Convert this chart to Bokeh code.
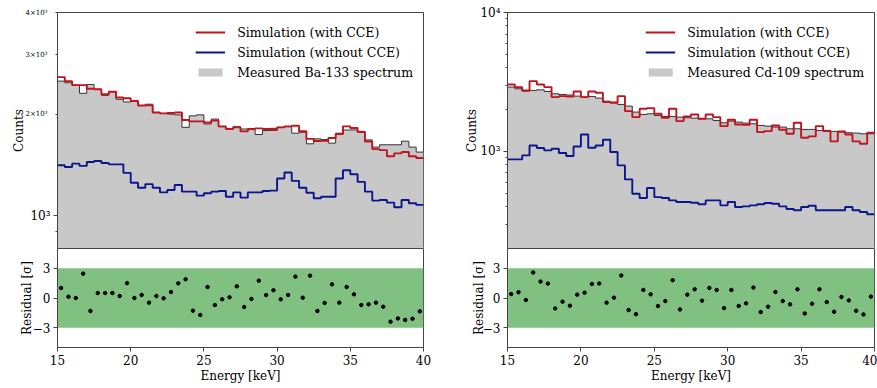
import numpy as np
from bokeh.plotting import figure
from bokeh.models import Range1d, FixedTicker, BoxAnnotation, Legend, LegendItem, LogAxis
from bokeh.layouts import row, column
from bokeh.embed import file_html
from bokeh.resources import INLINE

# ---------------- data ----------------
bin_edges = np.linspace(15.0, 40.0, 51)          # 0.5 keV bins
bin_centers = bin_edges[:-1] + 0.25
x_ticks = [15, 20, 25, 30, 35, 40]

ba_measured = [2505, 2477, 2438, 2305, 2449, 2368, 2274, 2331, 2213, 2173,
               2188, 2121, 2140, 2023, 2010, 2000, 1990, 1828, 1977, 1990,
               1870, 1934, 1836, 1807, 1836, 1807, 1800, 1740, 1788, 1815,
               1828, 1836, 1756, 1768, 1634, 1690, 1682, 1641, 1756, 1795,
               1795, 1778, 1678, 1597, 1623, 1623, 1623, 1663, 1597, 1544]
ba_sim_cce = [2574, 2505, 2438, 2438, 2378, 2370, 2290, 2330, 2240, 2230,
              2188, 2121, 2125, 2023, 2010, 2015, 2023, 1921, 1904, 1904,
              1890, 1913, 1840, 1807, 1828, 1778, 1807, 1815, 1807, 1795,
              1828, 1840, 1848, 1780, 1690, 1665, 1668, 1700, 1745, 1840,
              1820, 1770, 1660, 1575, 1565, 1500, 1530, 1545, 1500, 1483]
ba_sim_nocce = [1411, 1395, 1427, 1405, 1443, 1453, 1433, 1420, 1420, 1340,
                1252, 1211, 1241, 1211, 1173, 1192, 1233, 1179, 1179, 1147,
                1166, 1179, 1184, 1139, 1173, 1132, 1173, 1173, 1184, 1187,
                1289, 1343, 1269, 1211, 1170, 1127, 1139, 1139, 1289, 1364,
                1327, 1260, 1179, 1109, 1114, 1094, 1060, 1114, 1089, 1077]
ba_residual = [1.01, 0.13, 0.0, 2.46, -1.31, 0.5, 0.5, 0.5, 0.2, 1.5,
               0.0, 0.3, -0.47, 0.2, -0.03, 0.6, 1.48, 1.89, -1.28, -1.72,
               1.11, -0.71, -0.13, 0.07, 1.18, -0.91, -0.1, 1.75, 0.3, 0.78,
               -0.13, 0.3, 2.16, 0.03, 2.26, -1.31, -0.5, 1.38, -0.47, 1.11,
               0.37, -0.71, -0.64, -0.47, -0.88, -2.39, -2.06, -2.22, -2.09, -1.35]

cd_measured = [2903, 2825, 2717, 2747, 2775, 2700, 2600, 2570, 2545, 2500,
               2460, 2487, 2420, 2300, 2264, 2178, 2120, 1918, 1845, 1866,
               1815, 1785, 1785, 1766, 1746, 1737, 1717, 1717, 1670, 1607,
               1653, 1626, 1598, 1581, 1538, 1521, 1497, 1497, 1455, 1455,
               1440, 1440, 1416, 1416, 1393, 1377, 1362, 1355, 1340, 1340]
cd_sim_cce = [3034, 2903, 2747, 3206, 3034, 2903, 2460, 2500, 2487, 2700,
              2460, 2700, 2644, 2264, 2240, 2500, 1950, 1766, 2028, 2050,
              1866, 1746, 2028, 1653, 1785, 1845, 1717, 1845, 1766, 1520,
              1690, 1564, 1555, 1690, 1377, 1400, 1538, 1432, 1340, 1607,
              1254, 1282, 1521, 1400, 1180, 1393, 1325, 1180, 1135, 1362]
cd_sim_nocce = [876, 876, 936, 1104, 1057, 1017, 1045, 973, 926, 1086,
                1325, 1063, 1104, 1213, 989, 793, 629, 496, 462, 545,
                469, 462, 444, 432, 432, 427, 416, 444, 444, 409,
                432, 398, 402, 409, 416, 425, 420, 402, 385, 377,
                398, 406, 377, 377, 377, 377, 398, 377, 366, 353]
cd_residual = [0.4, 0.58, -0.2, 2.58, 1.66, 1.46, -1.05, -0.37, -0.78, 0.34,
               0.54, 1.42, 1.46, -0.47, 0.03, 2.27, -1.22, -1.63, 0.81, 0.37,
               -0.81, -0.31, 1.8, -1.15, 0.34, 0.88, -0.27, 1.02, 0.81, -1.02,
               0.81, -0.81, -0.54, 1.05, -1.42, -0.88, 0.61, -0.31, -0.64, 0.88,
               -1.56, -0.58, 0.88, -0.41, -1.39, 0.1, -0.24, -1.29, -1.66, 0.14]

# ---------------- style ----------------
FONT = "DejaVu Serif"
RED = "#c0141e"
BLUE = "#0c168c"
GRAY = "#c8c8c8"
SPINE = "#444444"
GREEN = "#80c080"


def style_axis(ax, standoff_label):
    ax.major_label_text_font = FONT
    ax.major_label_text_font_size = "12px"
    ax.major_label_text_color = "black"
    ax.axis_label_text_font = FONT
    ax.axis_label_text_font_size = "12px"
    ax.axis_label_text_font_style = "normal"
    ax.axis_label_text_color = "black"
    ax.axis_line_color = SPINE
    ax.major_tick_line_color = SPINE
    ax.minor_tick_line_color = SPINE
    ax.major_tick_in = 0
    ax.major_tick_out = 4
    ax.minor_tick_in = 0
    ax.minor_tick_out = 2
    ax.major_label_standoff = 3
    ax.axis_label_standoff = standoff_label


def base_fig(**kw):
    p = figure(output_backend="svg", toolbar_location=None, **kw)
    p.grid.visible = False
    p.outline_line_color = SPINE
    p.outline_line_width = 1
    p.background_fill_color = "white"
    p.border_fill_color = "white"
    return p


def step_vals(v):
    return list(v) + [v[-1]]


def make_pair(meas, cce, nocce, resid, ylo, yhi, major, minor, overrides,
              small_ticks, small_overrides, source_name, bl, fw, br, xr,
              main_lab_off, res_lab_off):
    width = bl + fw + br
    pm = base_fig(width=width, height=248, x_range=xr, y_range=Range1d(ylo, yhi),
                  y_axis_type="log", min_border_left=bl, min_border_right=br,
                  min_border_top=12, min_border_bottom=0)
    pm.xaxis.visible = False
    yax = pm.yaxis[0]
    yax.ticker = FixedTicker(ticks=major, minor_ticks=minor)
    yax.major_label_overrides = overrides
    style_axis(yax, main_lab_off)
    if small_ticks:
        outer = LogAxis(ticker=FixedTicker(ticks=small_ticks),
                        major_label_overrides=small_overrides)
        style_axis(outer, main_lab_off)
        outer.major_label_text_font_size = "7px"
        outer.major_tick_out = 0
        outer.minor_tick_out = 0
        outer.axis_line_color = None
        outer.major_label_standoff = -20
        outer.axis_label = "Counts"
        pm.add_layout(outer, "left")
    else:
        yax.axis_label = "Counts"

    base = [1] * len(bin_edges)
    r_meas = pm.varea_step(x=bin_edges, y1=base, y2=step_vals(meas), step_mode="after",
                           fill_color=GRAY)
    pm.step(bin_edges, step_vals(meas), mode="after", line_color="#333333", line_width=1.0)
    r_cce = pm.step(bin_edges, step_vals(cce), mode="after", line_color=RED, line_width=1.9)
    r_nocce = pm.step(bin_edges, step_vals(nocce), mode="after", line_color=BLUE, line_width=1.9)

    legend = Legend(items=[
        LegendItem(label="Simulation (with CCE)", renderers=[r_cce]),
        LegendItem(label="Simulation (without CCE)", renderers=[r_nocce]),
        LegendItem(label=source_name, renderers=[r_meas]),
    ], location="top_right")
    legend.label_text_font = FONT
    legend.label_text_font_size = "12.5px"
    legend.label_text_color = "black"
    legend.glyph_width = 30
    legend.glyph_height = 10
    legend.label_height = 20
    legend.label_standoff = 12
    legend.spacing = 0
    legend.padding = 8
    legend.margin = 10
    legend.border_line_color = None
    legend.background_fill_alpha = 0
    pm.add_layout(legend)

    pr = base_fig(width=width, height=140, x_range=xr, y_range=Range1d(-5, 5),
                  min_border_left=bl, min_border_right=br,
                  min_border_top=0, min_border_bottom=41)
    pr.add_layout(BoxAnnotation(bottom=-3, top=3, fill_color=GREEN, fill_alpha=1.0,
                                line_color=None, level="underlay"))
    pr.scatter(bin_centers, resid, size=3.5, color="black")
    ry = pr.yaxis[0]
    ry.ticker = FixedTicker(ticks=[-3, 0, 3])
    ry.major_label_overrides = {-3: "\u22123", 0: "0", 3: "3"}
    ry.axis_label = "Residual [\u03c3]"
    style_axis(ry, res_lab_off)
    rx = pr.xaxis[0]
    rx.ticker = FixedTicker(ticks=x_ticks)
    rx.axis_label = "Energy [keV]"
    style_axis(rx, 1)
    rx.major_label_standoff = 3
    return column(pm, pr)


xr_left = Range1d(15, 40)
xr_right = Range1d(15, 40)

left = make_pair(ba_measured, ba_sim_cce, ba_sim_nocce, ba_residual,
                 800, 4000, [1000], [900, 2000, 3000, 4000], {1000: "10\u00b3"},
                 [2000, 3000, 4000],
                 {2000: "2\u00d710\u00b3", 3000: "3\u00d710\u00b3", 4000: "4\u00d710\u00b3"},
                 "Measured Ba-133 spectrum", 57, 366, 17, xr_left, -4, -4)
right = make_pair(cd_measured, cd_sim_cce, cd_sim_nocce, cd_residual,
                  200, 10000, [1000, 10000],
                  [200, 300, 400, 500, 600, 700, 800, 900,
                   2000, 3000, 4000, 5000, 6000, 7000, 8000, 9000],
                  {1000: "10\u00b3", 10000: "10\u2074"}, [], {},
                  "Measured Cd-109 spectrum", 67, 367, 3, xr_right, -2, -6)

p = row(left, right)
open("out.html", "w").write(file_html(p, INLINE))
